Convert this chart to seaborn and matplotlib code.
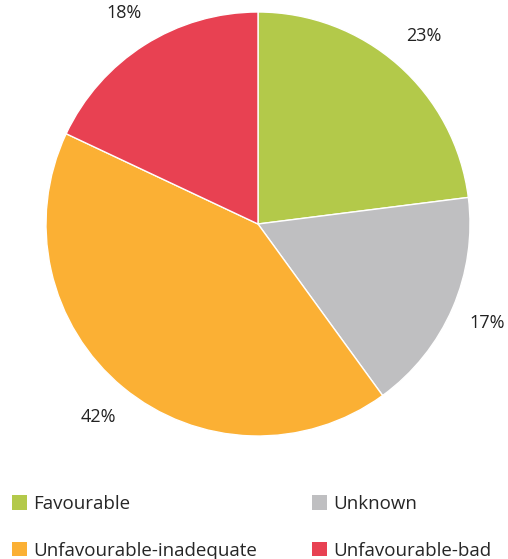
import matplotlib.pyplot as plt
import seaborn as sns
from matplotlib.patches import Patch

# data
categories = ["Favourable", "Unknown", "Unfavourable-inadequate", "Unfavourable-bad"]
shares = [23, 17, 42, 18]
colors = ["#b3c94a", "#bfbfc1", "#fbb034", "#e84152"]

sns.set_theme(style="white")
plt.rcParams['font.family'] = ['Open Sans', 'DejaVu Sans']

W, H = 508, 559
fig = plt.figure(figsize=(W / 100, H / 100), dpi=100)

# pie: centre (258, 224), radius 212 px
cx, cy, r = 258, 224, 212
ax = fig.add_axes([(cx - r) / W, (H - cy - r) / H, 2 * r / W, 2 * r / H])
wedges, texts, autotexts = ax.pie(
    shares, colors=colors, startangle=90, counterclock=False,
    autopct="%.0f%%", pctdistance=1.18, radius=1,
    wedgeprops=dict(linewidth=1, edgecolor="white"),
    textprops=dict(fontsize=13, color="#222222"),
)
ax.set_xlim(-1, 1)
ax.set_ylim(-1, 1)
ax.set_aspect("equal")
ax.axis("off")

# legend: two columns, rows filled left to right
handles = [Patch(facecolor=c, edgecolor="none") for c in colors]
order = [0, 2, 1, 3]
fig.legend([handles[i] for i in order], [categories[i] for i in order],
           ncol=2, loc="upper left", bbox_to_anchor=(12 / W, 1 - 495 / H),
           frameon=False, fontsize=13.5, handlelength=0.8, handleheight=0.8,
           handletextpad=0.35, columnspacing=2.9, labelspacing=1.52,
           borderaxespad=0, borderpad=0)

fig.savefig("out.png", dpi=100, facecolor="white")
